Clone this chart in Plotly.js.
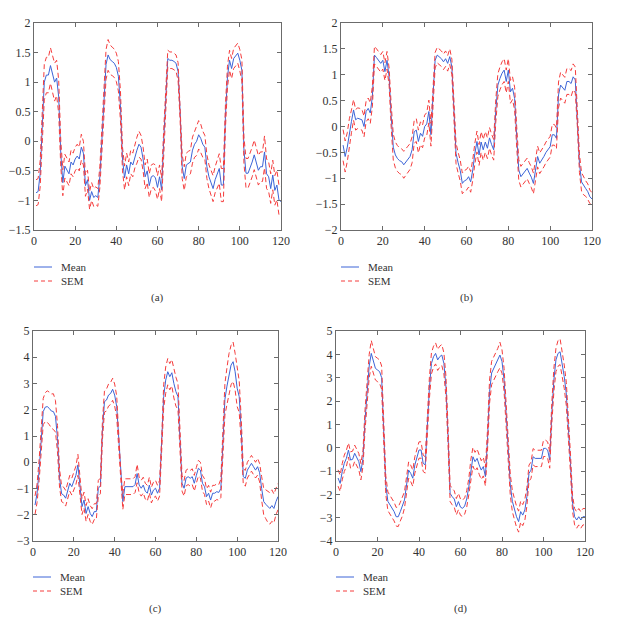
<!DOCTYPE html>
<html>
<head>
<meta charset="utf-8">
<script src="https://cdn.plot.ly/plotly-3.0.1.min.js"></script>
<style>
  html, body { margin: 0; padding: 0; background: #fff; }
  #chart { width: 629px; height: 618px; }
</style>
</head>
<body>
<div id="chart"></div>
<script>
// panel (a)
var meanA = [-0.87,-0.85,-0.55,0.2,1.0,1.12,1.12,1.28,1.15,1.0,
  1.07,0.75,-0.2,-0.7,-0.42,-0.5,-0.55,-0.35,-0.4,-0.3,
  -0.25,-0.3,-0.1,-0.2,-0.75,-0.65,-1.0,-0.85,-0.95,-0.92,
  -0.95,-0.6,0.0,0.7,1.3,1.46,1.38,1.35,1.32,1.25,
  1.1,0.6,-0.3,-0.62,-0.4,-0.55,-0.35,-0.4,-0.25,-0.15,
  -0.05,-0.1,-0.3,-0.6,-0.5,-0.75,-0.6,-0.58,-0.62,-0.78,
  -0.6,-0.82,0.0,0.85,1.4,1.37,1.37,1.35,1.32,1.18,
  0.5,-0.43,-0.63,-0.4,-0.37,-0.35,-0.15,-0.05,0.0,0.11,
  0.05,-0.05,-0.1,-0.43,-0.6,-0.7,-0.8,-0.65,-0.55,-0.46,
  -0.74,-0.74,0.42,1.09,1.37,1.23,1.4,1.45,1.49,1.37,
  1.2,-0.15,-0.54,-0.54,-0.45,-0.35,-0.23,-0.35,-0.49,-0.43,
  -0.43,-0.18,-0.55,-0.6,-0.8,-0.57,-0.83,-0.74,-0.99,-1.02];
var semA = [0.22,0.22,0.22,0.25,0.3,0.3,0.3,0.3,0.3,0.32,
  0.3,0.28,0.22,0.22,0.2,0.2,0.2,0.2,0.2,0.2,
  0.2,0.2,0.22,0.2,0.18,0.16,0.15,0.15,0.15,0.15,
  0.15,0.18,0.2,0.22,0.25,0.26,0.25,0.24,0.24,0.24,
  0.25,0.25,0.2,0.2,0.2,0.2,0.2,0.2,0.2,0.22,
  0.22,0.2,0.2,0.2,0.2,0.2,0.2,0.2,0.22,0.2,
  0.2,0.2,0.18,0.15,0.14,0.14,0.14,0.14,0.14,0.15,
  0.16,0.2,0.2,0.2,0.2,0.2,0.22,0.22,0.24,0.24,
  0.24,0.22,0.2,0.2,0.2,0.22,0.22,0.22,0.25,0.25,
  0.28,0.28,0.2,0.18,0.17,0.17,0.17,0.17,0.17,0.18,
  0.18,0.22,0.25,0.25,0.25,0.25,0.25,0.25,0.25,0.25,
  0.25,0.27,0.25,0.25,0.25,0.25,0.25,0.25,0.25,0.25];

// panel (b)
var meanB = [-0.36,-0.58,-0.4,-0.1,0.1,0.32,0.13,0.16,0.15,0.13,
  0.0,0.29,0.35,0.26,0.58,1.38,1.33,1.28,1.22,1.28,
  1.06,1.28,0.96,0.2,-0.4,-0.55,-0.62,-0.66,-0.68,-0.74,
  -0.68,-0.63,-0.58,-0.45,-0.1,-0.07,-0.29,-0.13,-0.19,0.0,
  0.05,0.29,-0.16,0.6,1.28,1.38,1.35,1.31,1.25,1.31,
  1.22,1.35,1.15,0.3,-0.52,-0.7,-0.85,-1.1,-1.05,-1.03,
  -0.97,-1.07,-0.84,-0.52,-0.29,-0.55,-0.3,-0.45,-0.3,-0.42,
  -0.22,-0.35,-0.45,0.3,0.8,0.93,1.03,1.09,0.87,1.09,
  0.67,0.74,0.54,-0.2,-0.84,-0.97,-0.92,-0.88,-0.81,-0.9,
  -0.98,-1.1,-0.84,-0.58,-0.71,-0.65,-0.58,-0.5,-0.45,-0.39,
  -0.16,-0.16,-0.23,0.61,0.8,0.75,0.7,0.87,0.87,0.83,
  0.96,0.9,0.2,-0.71,-1.07,-1.15,-1.2,-1.26,-1.36,-1.4];
var semB = [0.3,0.3,0.28,0.25,0.22,0.2,0.2,0.2,0.2,0.2,
  0.2,0.2,0.2,0.2,0.2,0.17,0.17,0.17,0.17,0.17,
  0.17,0.17,0.17,0.22,0.25,0.25,0.25,0.25,0.25,0.26,
  0.26,0.25,0.25,0.25,0.22,0.22,0.22,0.22,0.22,0.22,
  0.22,0.22,0.22,0.22,0.15,0.15,0.15,0.15,0.15,0.15,
  0.15,0.15,0.15,0.18,0.2,0.2,0.2,0.2,0.2,0.2,
  0.2,0.2,0.2,0.2,0.2,0.2,0.2,0.2,0.2,0.2,
  0.2,0.2,0.2,0.22,0.22,0.22,0.22,0.22,0.22,0.22,
  0.22,0.22,0.22,0.2,0.2,0.2,0.2,0.2,0.2,0.2,
  0.2,0.2,0.2,0.2,0.2,0.2,0.2,0.2,0.2,0.2,
  0.2,0.2,0.2,0.25,0.25,0.25,0.25,0.25,0.25,0.25,
  0.25,0.25,0.2,0.18,0.18,0.17,0.15,0.15,0.13,0.12];

// panel (c)
var meanC = [-1.63,-1.18,-0.3,0.98,1.93,2.1,2.12,2.05,1.95,1.93,
  1.75,0.9,-0.6,-1.2,-1.25,-1.37,-1.1,-0.8,-0.93,-0.68,
  -0.5,-0.1,-0.8,-1.69,-1.44,-1.95,-1.69,-1.95,-2.07,-1.88,
  -1.88,-0.99,-0.9,1.2,2.31,2.37,2.56,2.62,2.78,2.56,
  2.12,0.85,-0.68,-1.5,-0.93,-0.93,-0.93,-0.93,-0.93,-0.85,
  -0.43,-0.87,-0.99,-0.87,-1.1,-1.18,-0.87,-1.25,-1.06,-0.99,
  -1.18,-0.99,0.5,2.5,3.13,3.45,3.26,3.41,3.0,2.69,
  2.5,0.8,-0.8,-0.99,-0.6,-0.55,-0.61,-0.55,-0.8,-0.5,
  -0.23,-0.3,-0.8,-0.93,-1.31,-1.18,-1.44,-1.18,-1.18,-1.12,
  -1.15,-1.0,1.0,2.4,2.9,3.39,3.7,3.83,3.45,2.82,
  2.5,1.2,-0.55,-0.61,-0.3,-0.17,-0.04,-0.17,-0.3,-0.17,
  -0.4,-1.0,-1.5,-1.6,-1.69,-1.76,-1.65,-1.76,-1.5,-1.31];
var semC = [0.35,0.35,0.4,0.45,0.5,0.55,0.6,0.62,0.65,0.68,
  0.6,0.5,0.35,0.3,0.3,0.3,0.3,0.3,0.32,0.35,
  0.35,0.4,0.35,0.3,0.3,0.3,0.3,0.3,0.3,0.3,
  0.3,0.3,0.3,0.35,0.4,0.42,0.42,0.42,0.42,0.42,
  0.4,0.35,0.3,0.3,0.3,0.3,0.3,0.3,0.3,0.3,
  0.35,0.3,0.3,0.3,0.3,0.3,0.3,0.3,0.3,0.3,
  0.3,0.3,0.35,0.45,0.5,0.5,0.5,0.5,0.55,0.55,
  0.5,0.4,0.3,0.3,0.3,0.3,0.3,0.3,0.3,0.3,
  0.3,0.3,0.3,0.3,0.3,0.3,0.3,0.3,0.3,0.3,
  0.3,0.35,0.45,0.6,0.7,0.75,0.75,0.75,0.7,0.7,
  0.6,0.45,0.3,0.3,0.3,0.3,0.3,0.3,0.3,0.32,
  0.35,0.45,0.5,0.55,0.6,0.6,0.6,0.55,0.5,0.5];

// panel (d)
var meanD = [-1.3,-1.53,-1.03,-0.67,-0.46,-0.1,-0.53,-0.5,-0.24,-0.46,
  -0.6,-1.03,-0.46,1.2,2.5,3.5,4.04,3.69,3.4,3.33,
  3.26,3.0,0.8,-1.6,-2.3,-2.45,-2.6,-2.74,-2.96,-2.96,
  -2.74,-2.53,-2.24,-1.6,-0.96,-1.1,-1.31,-0.74,-0.46,-0.1,
  -0.1,-0.67,-0.74,1.04,2.54,3.61,3.9,4.04,3.76,3.9,
  3.97,3.61,2.6,0.5,-1.96,-2.1,-2.2,-2.53,-2.31,-2.55,
  -2.6,-2.5,-2.2,-1.67,-0.9,-0.39,-0.6,-0.46,-0.74,-0.96,
  -0.81,-1.24,0.3,2.4,3.2,3.4,3.54,3.76,3.97,3.69,
  2.9,1.47,-0.39,-1.6,-2.3,-2.67,-2.96,-3.17,-2.74,-2.89,
  -2.67,-2.1,-1.1,-0.96,-0.39,-0.46,-0.46,-0.46,-0.46,-0.03,
  -0.03,-0.1,-0.53,1.47,2.9,3.76,4.04,4.11,3.61,3.04,
  2.3,1.0,-0.67,-2.39,-2.96,-3.1,-2.96,-3.1,-2.96,-2.96];
var semD = [0.35,0.35,0.35,0.35,0.35,0.3,0.35,0.35,0.35,0.35,
  0.35,0.35,0.35,0.45,0.5,0.5,0.55,0.55,0.5,0.5,
  0.5,0.5,0.45,0.4,0.4,0.4,0.4,0.4,0.4,0.42,
  0.4,0.4,0.35,0.35,0.35,0.35,0.35,0.35,0.35,0.35,
  0.35,0.35,0.35,0.4,0.45,0.45,0.45,0.45,0.45,0.45,
  0.45,0.45,0.45,0.4,0.35,0.35,0.35,0.35,0.35,0.35,
  0.35,0.35,0.35,0.35,0.4,0.4,0.4,0.4,0.4,0.4,
  0.4,0.4,0.45,0.5,0.5,0.5,0.5,0.5,0.55,0.5,
  0.5,0.45,0.45,0.45,0.45,0.45,0.45,0.45,0.45,0.45,
  0.45,0.4,0.35,0.35,0.35,0.35,0.35,0.35,0.35,0.35,
  0.35,0.35,0.35,0.45,0.5,0.5,0.55,0.55,0.55,0.5,
  0.5,0.45,0.4,0.35,0.35,0.35,0.35,0.35,0.35,0.35];

var xTicks = [0, 20, 40, 60, 80, 100, 120];
var panelLabels = ['(a)', '(b)', '(c)', '(d)'];
var legendNames = ['Mean', 'SEM'];

var W = 629, H = 618;
var blue = 'rgb(60,100,215)';
var red = 'rgb(245,60,60)';
var serif = 'Liberation Serif, DejaVu Serif, serif';

function px(x) { return x / W; }
function py(y) { return 1 - y / H; }

var traces = [];

function buildPanel(mean, sem, n) {
    let xs = [], upper = [], lower = [];
    for (let i = 0; i < mean.length; i++) {
        xs.push(i + 1);
        upper.push(mean[i] + sem[i]);
        lower.push(mean[i] - sem[i]);
    }
    let xa = n == 1 ? 'x' : 'x' + n;
    let ya = n == 1 ? 'y' : 'y' + n;
    traces.push({x: xs, y: mean, xaxis: xa, yaxis: ya, type: 'scatter', mode: 'lines',
        name: legendNames[0], showlegend: false, line: {color: blue, width: 1}});
    traces.push({x: xs, y: upper, xaxis: xa, yaxis: ya, type: 'scatter', mode: 'lines',
        name: legendNames[1], showlegend: false, line: {color: red, width: 1, dash: '5px,3px'}});
    traces.push({x: xs, y: lower, xaxis: xa, yaxis: ya, type: 'scatter', mode: 'lines',
        name: legendNames[1], showlegend: false, line: {color: red, width: 1, dash: '5px,3px'}});
}

buildPanel(meanA, semA, 1);
buildPanel(meanB, semB, 2);
buildPanel(meanC, semC, 3);
buildPanel(meanD, semD, 4);

function axis(domain, range, dtick, anchor) {
    return {
        domain: domain, range: range, anchor: anchor,
        tickmode: 'linear', tick0: range[0], dtick: dtick,
        showline: true, mirror: 'ticks', linecolor: '#6b6b6b', linewidth: 1,
        ticks: 'inside', ticklen: 4, tickcolor: '#6b6b6b',
        showgrid: false, zeroline: false,
        tickfont: {family: serif, size: 12, color: '#333'}
    };
}

// plot boxes in pixels: [left, right, top, bottom]
var boxes = [[34, 281, 23, 230], [341, 592, 23, 230], [33, 278, 331, 541], [336, 585, 331, 541]];
var yRanges = [[-1.5, 2], [-2, 2], [-3, 5], [-4, 5]];
var yDticks = [0.5, 0.5, 1, 1];

var layout = {
    width: W, height: H, autosize: false,
    margin: {l: 0, r: 0, t: 0, b: 0},
    paper_bgcolor: '#fff', plot_bgcolor: '#fff',
    showlegend: false,
    shapes: [], annotations: []
};

for (let i = 0; i < 4; i++) {
    let b = boxes[i];
    let suffix = i == 0 ? '' : String(i + 1);
    let xd = [px(b[0]), px(b[1])];
    let yd = [py(b[3]), py(b[2])];
    layout['xaxis' + suffix] = axis(xd, [0, 120], 20, 'y' + suffix);
    layout['yaxis' + suffix] = axis(yd, yRanges[i], yDticks[i], 'x' + suffix);

    // legend under each panel
    let legTop = i < 2 ? 267 : 577;
    let left = b[0];
    layout.shapes.push({type: 'line', xref: 'paper', yref: 'paper',
        x0: px(left), x1: px(left + 18), y0: py(legTop), y1: py(legTop),
        line: {color: blue, width: 1}});
    layout.shapes.push({type: 'line', xref: 'paper', yref: 'paper',
        x0: px(left), x1: px(left + 18), y0: py(legTop + 14), y1: py(legTop + 14),
        line: {color: red, width: 1, dash: '4px,3px'}});
    layout.annotations.push({xref: 'paper', yref: 'paper', x: px(left + 25), y: py(legTop),
        text: legendNames[0], showarrow: false, xanchor: 'left', yanchor: 'middle',
        font: {family: serif, size: 11, color: '#333'}});
    layout.annotations.push({xref: 'paper', yref: 'paper', x: px(left + 25), y: py(legTop + 14),
        text: legendNames[1], showarrow: false, xanchor: 'left', yanchor: 'middle',
        font: {family: serif, size: 11, color: '#333'}});
    layout.annotations.push({xref: 'paper', yref: 'paper', x: px((b[0] + b[1]) / 2), y: py(legTop + 31),
        text: panelLabels[i], showarrow: false, xanchor: 'center', yanchor: 'middle',
        font: {family: serif, size: 11, color: '#333'}});
}

Plotly.newPlot('chart', traces, layout, {displayModeBar: false, staticPlot: true});
</script>
</body>
</html>
